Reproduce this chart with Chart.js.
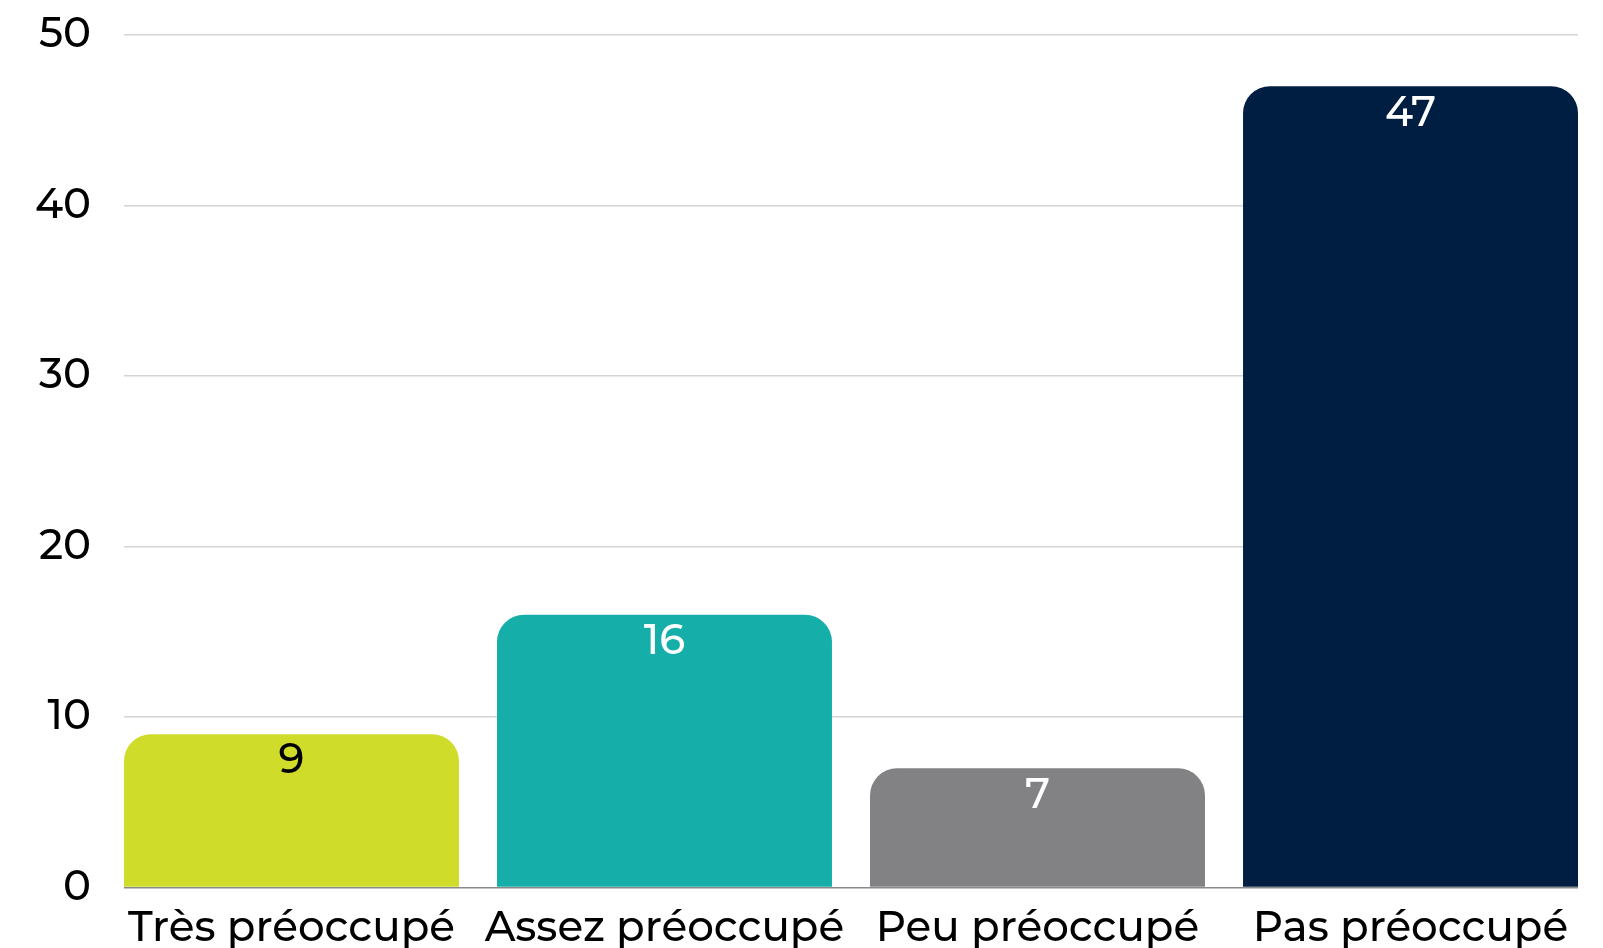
<!DOCTYPE html>
<html>
<head>
<meta charset="utf-8">
<script src="https://cdn.jsdelivr.net/npm/chart.js@4.4.1/dist/chart.umd.min.js"></script>
<style>
  html, body { margin: 0; padding: 0; background: #ffffff; }
  #wrap { width: 1603px; height: 948px; position: relative; }
</style>
</head>
<body>
<div id="wrap"><canvas id="c" width="1603" height="948"></canvas></div>
<script>
const categories = ['Très préoccupé', 'Assez préoccupé', 'Peu préoccupé', 'Pas préoccupé'];
const values = [9, 16, 7, 47];
const yTicks = [0, 10, 20, 30, 40, 50];

const barColors = ['#cfdc29', '#16aea8', '#828284', '#001e42'];
const labelColors = ['#000000', '#ffffff', '#ffffff', '#ffffff'];
const FONT = "'Montserrat', 'Open Sans', sans-serif";

const valueLabels = {
  id: 'valueLabels',
  afterDatasetsDraw(chart) {
    const ctx = chart.ctx;
    const meta = chart.getDatasetMeta(0);
    ctx.save();
    ctx.font = '500 42px ' + FONT;
    ctx.textAlign = 'center';
    ctx.textBaseline = 'middle';
    meta.data.forEach((el, i) => {
      ctx.fillStyle = labelColors[i];
      ctx.fillText(String(values[i]), el.x, el.y + 27);
    });
    ctx.restore();
  }
};

new Chart(document.getElementById('c'), {
  type: 'bar',
  data: {
    datasets: [{
      data: values.map((v, i) => ({ x: i, y: v })),
      backgroundColor: barColors,
      borderRadius: 27,
      borderSkipped: 'start',
      barPercentage: 1,
      categoryPercentage: 0.898
    }]
  },
  options: {
    responsive: false,
    animation: false,
    layout: { padding: { top: 35, right: 25, left: 0, bottom: -22 } },
    plugins: { legend: { display: false }, tooltip: { enabled: false } },
    scales: {
      x: {
        type: 'linear',
        offset: false,
        min: -0.449,
        max: 3.449,
        grid: { display: false, drawTicks: false, offset: false },
        border: { display: false },
        ticks: {
          stepSize: 1,
          includeBounds: false,
          autoSkip: false,
          maxRotation: 0,
          padding: 16,
          color: '#000000',
          font: { family: FONT, size: 42, weight: '500' },
          callback: (v) => Number.isInteger(v) ? categories[v] : ''
        }
      },
      y: {
        min: 0,
        max: 50,
        afterBuildTicks: (s) => { s.ticks = yTicks.map(v => ({ value: v })); },
        afterFit: (s) => { s.width = 124; s.paddingTop = 0; s.paddingBottom = 0; },
        grid: {
          drawTicks: false,
          color: (c) => c.tick && c.tick.value === 0 ? '#8a8a8a' : '#d4d4d4',
          lineWidth: 1.5
        },
        border: { display: false },
        ticks: {
          padding: 33,
          color: '#000000',
          font: { family: FONT, size: 42, weight: '500' }
        }
      }
    }
  },
  plugins: [valueLabels]
});
</script>
</body>
</html>
